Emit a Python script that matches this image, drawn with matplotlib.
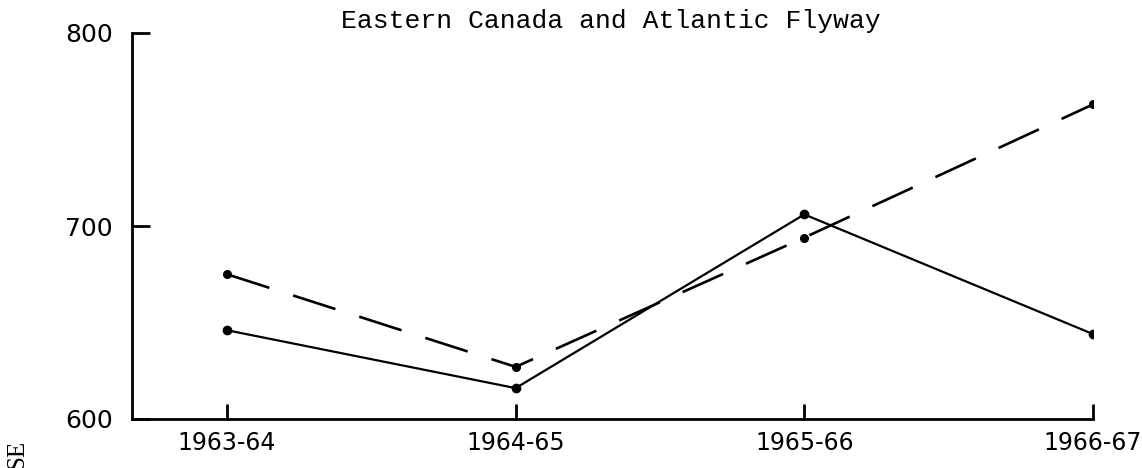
import matplotlib
matplotlib.use("Agg")
import matplotlib.pyplot as plt

# seasons on the x axis
seasons = ["1963-64", "1964-65", "1965-66", "1966-67"]
# values
solid_vals = [646, 616, 706, 644]
dashed_vals = [675, 627, 694, 763]
y_ticks = [600, 700, 800]

title = "Eastern Canada and Atlantic Flyway"

plt.rcParams["lines.scale_dashes"] = False

fig = plt.figure(figsize=(11.42, 4.68), dpi=100)
ax = fig.add_axes([132 / 1142, 1 - 419 / 468, (1093 - 132) / 1142, (419 - 33) / 468])

x = list(range(len(seasons)))

# solid series
ax.plot(x, solid_vals, color="black", lw=1.6, marker="o", ms=6)
# dashed series
ax.plot(x, dashed_vals, color="black", lw=1.9, marker="o", ms=5.5,
        dashes=(32, 18))

ax.set_xlim(-0.329, 3)
ax.set_ylim(600, 800)

ax.spines["top"].set_visible(False)
ax.spines["right"].set_visible(False)
ax.spines["left"].set_linewidth(2)
ax.spines["bottom"].set_linewidth(2)

ax.set_yticks(y_ticks)
ax.set_yticklabels([str(v) for v in y_ticks], fontsize=18,
                   family="DejaVu Sans")
ax.tick_params(axis="y", direction="in", length=13, width=2, pad=14)

ax.set_xticks(x)
ax.set_xticklabels(seasons, fontsize=17, family="DejaVu Sans")
ax.tick_params(axis="x", direction="in", length=11, width=2, pad=9)

fig.text(611 / 1142, 1 - 21 / 468, title, ha="center", va="center",
         fontsize=19, family="Liberation Mono")

# cut-off axis label fragment at the bottom-left
fig.text(17 / 1142, 1 - 440 / 468, "SE", rotation=90, ha="center", va="top",
         fontsize=18, family="Liberation Serif")

fig.savefig("out.png", dpi=100)
